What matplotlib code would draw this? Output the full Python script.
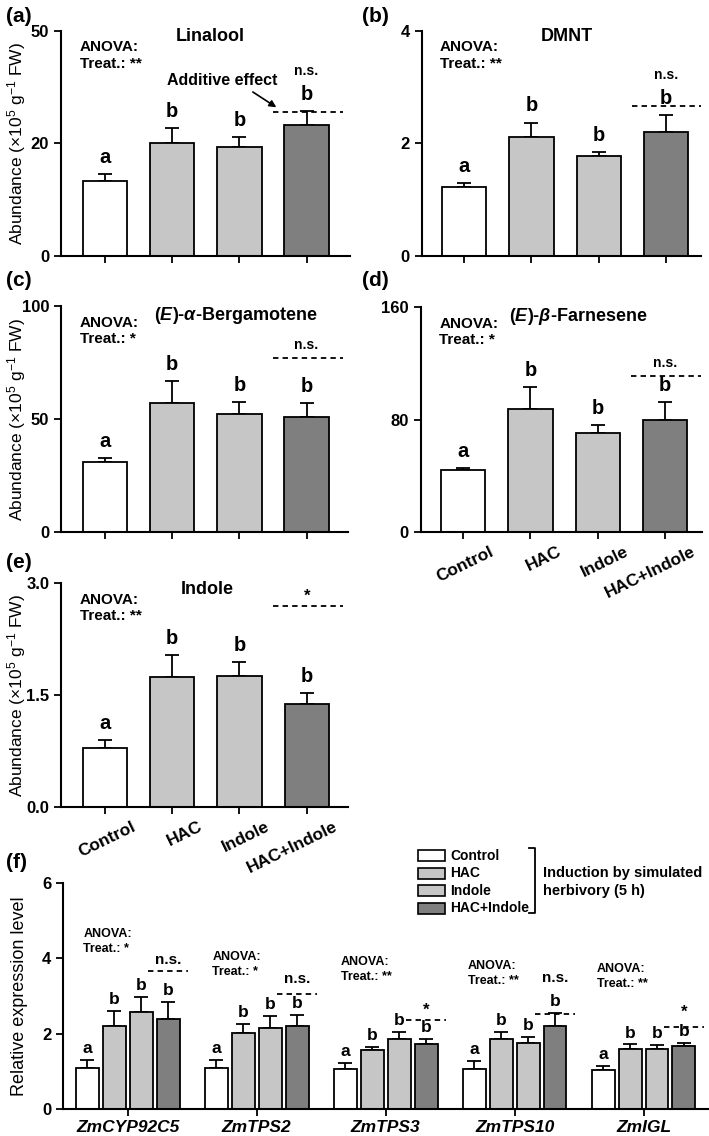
import matplotlib
matplotlib.use('Agg')
import matplotlib.pyplot as plt
import matplotlib.transforms as mtrans
import numpy as np
from matplotlib.patches import Rectangle
from matplotlib.lines import Line2D

plt.rcParams['font.family'] = ['Liberation Sans', 'DejaVu Sans']
plt.rcParams['mathtext.fontset'] = 'custom'
plt.rcParams['mathtext.rm'] = 'Liberation Sans'
plt.rcParams['mathtext.it'] = 'Liberation Sans:italic'
plt.rcParams['mathtext.bf'] = 'Liberation Sans:bold'
plt.rcParams['mathtext.bfit'] = 'Liberation Sans:italic:bold'
plt.rcParams['mathtext.default'] = 'regular'

# ---------------- data ----------------
categories = ['Control', 'HAC', 'Indole', 'HAC+Indole']
letters = ['a', 'b', 'b', 'b']

linalool_mean = [16.6, 25.0, 24.2, 29.1]
linalool_err = [1.6, 3.3, 2.1, 3.1]
linalool_add = 32.0
linalool_yticks = [0, 25, 50]
linalool_yticklabels = ['0', '20', '50']

dmnt_mean = [1.22, 2.12, 1.78, 2.20]
dmnt_err = [0.08, 0.25, 0.07, 0.30]
dmnt_add = 2.66
dmnt_yticks = [0, 2, 4]

berg_mean = [31.2, 57.3, 52.3, 51.0]
berg_err = [1.6, 9.7, 5.1, 6.3]
berg_add = 77.2
berg_yticks = [0, 50, 100]

farn_mean = [44.1, 88.0, 70.9, 80.1]
farn_err = [1.6, 15.6, 5.4, 12.4]
farn_add = 111.0
farn_yticks = [0, 80, 160]

indole_mean = [0.79, 1.74, 1.76, 1.38]
indole_err = [0.11, 0.30, 0.18, 0.15]
indole_add = 2.69
indole_yticks = [0.0, 1.5, 3.0]
indole_yticklabels = ['0.0', '1.5', '3.0']

anova_volatiles = ['**', '**', '*', '*', '**']
sig_volatiles = ['n.s.', 'n.s.', 'n.s.', 'n.s.', '*']

genes = ['ZmCYP92C5', 'ZmTPS2', 'ZmTPS3', 'ZmTPS10', 'ZmIGL']
gene_mean = {
    'Control':    [1.09, 1.09, 1.06, 1.07, 1.03],
    'HAC':        [2.19, 2.01, 1.56, 1.85, 1.60],
    'Indole':     [2.58, 2.14, 1.86, 1.76, 1.58],
    'HAC+Indole': [2.38, 2.19, 1.72, 2.21, 1.67],
}
gene_err = {
    'Control':    [0.21, 0.20, 0.15, 0.19, 0.11],
    'HAC':        [0.41, 0.24, 0.09, 0.18, 0.11],
    'Indole':     [0.39, 0.33, 0.18, 0.14, 0.11],
    'HAC+Indole': [0.46, 0.30, 0.14, 0.34, 0.07],
}
gene_add = [3.67, 3.05, 2.36, 2.53, 2.17]
gene_anova = ['*', '*', '**', '**', '**']
gene_sig = ['n.s.', 'n.s.', '*', 'n.s.', '*']
gene_yticks = [0, 2, 4, 6]

# ---------------- style ----------------
bar_colors = ['white', '#c6c6c6', '#c6c6c6', '#7f7f7f']
W, H = 709, 1136
LW = 1.3
dash = (0, (3, 2.3))

fig = plt.figure(figsize=(W / 100, H / 100), dpi=100)


def axrect(l, t, r, b):
    return [l / W, 1 - b / H, (r - l) / W, (b - t) / H]


def style_axis(ax):
    for s in ['top', 'right']:
        ax.spines[s].set_visible(False)
    for s in ['left', 'bottom']:
        ax.spines[s].set_linewidth(1.5)
    ax.tick_params(axis='both', direction='out', length=5, width=1.3,
                   labelsize=12)


ylab = r'Abundance (×10$^{5}$ g$^{-1}$ FW)'

panels = [
    dict(name='(a)', rect=(61, 30.7, 350, 256), xl=(-0.655, 3.646),
         mean=linalool_mean, err=linalool_err, add=linalool_add,
         yt=linalool_yticks, ytl=linalool_yticklabels, ylim=(0, 50),
         title='Linalool', tpos=(0.515, 0.975), sigy=41.0,
         anova=anova_volatiles[0], sig=sig_volatiles[0], ylabel=True,
         xlabels=False, plab=(6, 16)),
    dict(name='(b)', rect=(421.7, 30.7, 700.7, 256), xl=(-0.634, 3.518),
         mean=dmnt_mean, err=dmnt_err, add=dmnt_add,
         yt=dmnt_yticks, ytl=[str(v) for v in dmnt_yticks], ylim=(0, 4),
         title='DMNT', tpos=(0.52, 0.975), sigy=3.21,
         anova=anova_volatiles[1], sig=sig_volatiles[1], ylabel=False,
         xlabels=False, plab=(362, 16)),
    dict(name='(c)', rect=(61, 306, 348, 532.3), xl=(-0.655, 3.616),
         mean=berg_mean, err=berg_err, add=berg_add,
         yt=berg_yticks, ytl=[str(v) for v in berg_yticks], ylim=(0, 100),
         title=r'($\mathbfit{E}$)-$\mathbfit{\alpha}$-Bergamotene',
         tpos=(0.61, 0.96), sigy=82.8,
         anova=anova_volatiles[2], sig=sig_volatiles[2], ylabel=True,
         xlabels=False, plab=(6, 281)),
    dict(name='(d)', rect=(420.7, 307.3, 701.7, 532.3), xl=(-0.634, 3.548),
         mean=farn_mean, err=farn_err, add=farn_add,
         yt=farn_yticks, ytl=[str(v) for v in farn_yticks], ylim=(0, 160),
         title=r'($\mathbfit{E}$)-$\mathbfit{\beta}$-Farnesene',
         tpos=(0.56, 0.96), sigy=120.2,
         anova=anova_volatiles[3], sig=sig_volatiles[3], ylabel=False,
         xlabels=True, plab=(362, 281)),
    dict(name='(e)', rect=(61, 583.3, 347.7, 807.3), xl=(-0.655, 3.61),
         mean=indole_mean, err=indole_err, add=indole_add,
         yt=indole_yticks, ytl=indole_yticklabels, ylim=(0, 3.0),
         title='Indole', tpos=(0.51, 0.973), sigy=2.82,
         anova=anova_volatiles[4], sig=sig_volatiles[4], ylabel=True,
         xlabels=True, plab=(6, 563)),
]

label_shift = mtrans.ScaledTranslation(19 / 72, 0, fig.dpi_scale_trans)

x = np.arange(len(categories))
for p in panels:
    ax = fig.add_axes(axrect(*p['rect']))
    style_axis(ax)
    ax.bar(x, p['mean'], width=0.66, color=bar_colors, edgecolor='black',
           linewidth=LW, zorder=2)
    ax.errorbar(x, p['mean'], yerr=[np.zeros(len(x)), p['err']], fmt='none',
                ecolor='black', elinewidth=LW, capsize=5, capthick=LW,
                zorder=1)
    for xi, m, e, lt in zip(x, p['mean'], p['err'], letters):
        ax.annotate(lt, (xi, m + e), xytext=(0, 8), textcoords='offset points',
                    ha='center', va='baseline', fontsize=14.5,
                    fontweight='bold')
    ax.hlines(p['add'], x[-1] - 0.5, x[-1] + 0.54, colors='black',
              linewidth=LW, linestyles=dash)
    ax.text(x[-1], p['sigy'], p['sig'], ha='center', va='center',
            fontsize=10 if p['sig'] != '*' else 12, fontweight='bold')
    ax.text(0.066, 0.89, 'ANOVA:\nTreat.: ' + p['anova'],
            transform=ax.transAxes, ha='left', va='center', fontsize=11,
            fontweight='bold', linespacing=1.25)
    ax.text(p['tpos'][0], p['tpos'][1], p['title'], transform=ax.transAxes,
            ha='center', va='center', fontsize=13, fontweight='bold')
    ax.set_xlim(*p['xl'])
    ax.set_ylim(*p['ylim'])
    ax.set_yticks(p['yt'])
    ax.set_yticklabels(p['ytl'], fontweight='bold')
    ax.set_xticks(x)
    if p['xlabels']:
        labs = ax.set_xticklabels(categories, rotation=26, ha='right',
                                  va='top', rotation_mode='anchor',
                                  fontweight='bold', fontsize=12.5)
        for lab in labs:
            lab.set_transform(lab.get_transform() + label_shift)
    else:
        ax.set_xticklabels([])
    if p['ylabel']:
        ax.set_ylabel(ylab, fontsize=12.5)
        ax.yaxis.set_label_coords(-0.114, 0.5)
    fig.text(p['plab'][0] / W, 1 - p['plab'][1] / H, p['name'],
             fontsize=15, fontweight='bold', ha='left', va='center')
    if p['name'] == '(a)':
        ax.text(1.74, 39.0, 'Additive effect', ha='center', va='center',
                fontsize=11.5, fontweight='bold')
        ax.annotate('', xy=(2.55, 33.0), xytext=(2.2, 36.4),
                    arrowprops=dict(arrowstyle='-|>', color='black', lw=1.2,
                                    mutation_scale=10, shrinkA=0, shrinkB=0))

# ---------------- panel (f) ----------------
axf = fig.add_axes(axrect(63.3, 883.3, 708, 1108.7))
style_axis(axf)
g = np.arange(len(genes))
step, bw = 0.209, 0.178
offs = (np.arange(4) - 1.5) * step
for i, cat in enumerate(categories):
    xs = g + offs[i]
    axf.bar(xs, gene_mean[cat], width=bw, color=bar_colors[i],
            edgecolor='black', linewidth=LW, zorder=2)
    axf.errorbar(xs, gene_mean[cat], yerr=[np.zeros(len(g)), gene_err[cat]],
                 fmt='none', ecolor='black', elinewidth=LW, capsize=5,
                 capthick=LW, zorder=1)
    for xi, m, e in zip(xs, gene_mean[cat], gene_err[cat]):
        axf.annotate(letters[i], (xi, m + e), xytext=(0, 5),
                     textcoords='offset points', ha='center', va='baseline',
                     fontsize=12.5, fontweight='bold')

anova_pos = [(-0.345, 4.46), (0.655, 3.84), (1.653, 3.70), (2.64, 3.60),
             (3.64, 3.53)]
sig_pos = [3.97, 3.44, 2.62, 3.48, 2.56]
for j in range(len(genes)):
    xb = g[j] + offs[-1]
    axf.hlines(gene_add[j], xb - 0.155, xb + 0.155, colors='black',
               linewidth=LW, linestyles=dash)
    axf.text(xb, sig_pos[j], gene_sig[j], ha='center', va='center',
             fontsize=11 if gene_sig[j] != '*' else 12, fontweight='bold')
    axf.text(anova_pos[j][0], anova_pos[j][1], 'ANOVA:\nTreat.: ' + gene_anova[j],
             ha='left', va='center', fontsize=9, fontweight='bold',
             linespacing=1.35)

axf.set_xlim(-0.5, 4.5)
axf.set_ylim(0, 6)
axf.set_yticks(gene_yticks)
axf.set_yticklabels([str(v) for v in gene_yticks], fontweight='bold')
axf.set_xticks(g)
axf.set_xticklabels(genes, fontweight='bold', fontstyle='italic',
                    fontsize=12.5)
axf.tick_params(axis='x', pad=3)
axf.set_ylabel('Relative expression level', fontsize=13)
axf.yaxis.set_label_coords(-0.054, 0.5)
fig.text(6 / W, 1 - 862 / H, '(f)', fontsize=15, fontweight='bold',
         ha='left', va='center')

# legend for (f)
rows = [855.7, 873.3, 890.7, 908.3]
for cat, col, yy in zip(categories, bar_colors, rows):
    fig.add_artist(Rectangle((418 / W, 1 - (yy + 5.3) / H), 27 / W, 10.6 / H,
                             transform=fig.transFigure, facecolor=col,
                             edgecolor='black', linewidth=1.2))
    fig.text(450 / W, 1 - yy / H, cat, fontsize=10, fontweight='bold',
             ha='left', va='center')
bx = [529 / W, 535 / W, 535 / W, 529 / W]
by = [1 - 848.3 / H, 1 - 848.3 / H, 1 - 913.3 / H, 1 - 913.3 / H]
fig.add_artist(Line2D(bx, by, transform=fig.transFigure, color='black',
                      linewidth=1.3))
fig.text(543.3 / W, 1 - 873.3 / H, 'Induction by simulated', fontsize=10.5,
         fontweight='bold', ha='left', va='center')
fig.text(543.3 / W, 1 - 890.7 / H, 'herbivory (5 h)', fontsize=10.5,
         fontweight='bold', ha='left', va='center')

fig.savefig('out.png', dpi=100)
